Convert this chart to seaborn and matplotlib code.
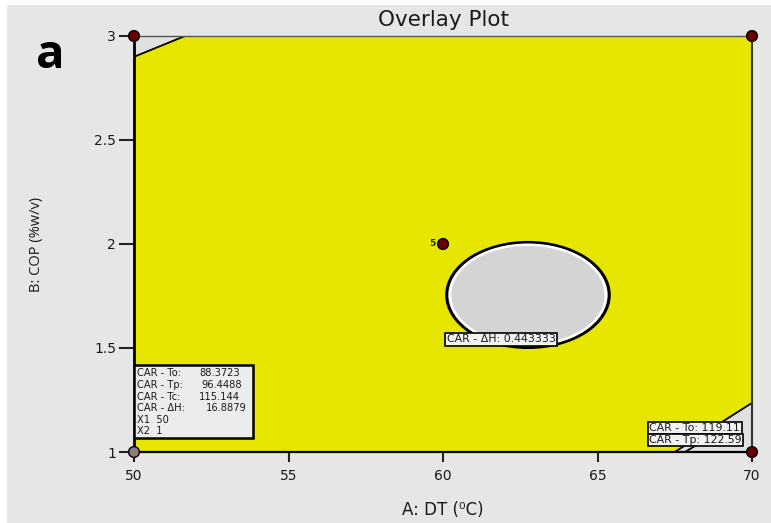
import numpy as np
import pandas as pd
import matplotlib
matplotlib.use("Agg")
import matplotlib.pyplot as plt
from matplotlib.patches import Ellipse, Polygon, Rectangle
import seaborn as sns

# Design points (A: DT, B: COP)
design_dt = [50, 70, 70, 50, 60]
design_cop = [3, 3, 1, 1, 2]
design_kind = ["run", "run", "run", "flag", "center"]

# Axis ticks
x_ticks = [50, 55, 60, 65, 70]
y_ticks = [1, 1.5, 2, 2.5, 3]
y_tick_labels = ["1", "1.5", "2", "2.5", "3"]

# Unsatisfied regions of the overlay
hole_center = (62.75, 1.755)      # CAR - dH window hole
hole_size = (5.26, 0.505)
corner_tl = [(50, 3), (51.65, 3), (50, 2.9)]
corner_br_to = [(67.5, 1), (70, 1.236), (70, 1)]
tp_line_dt = [67.83, 68.45]
tp_line_cop = [1.0, 1.055]

# Flag readout at X1=50, X2=1
flag_names = ["CAR - To:", "CAR - Tp:", "CAR - Tc:", "CAR - \u0394H:"]
flag_values = ["88.3723", "96.4488", "115.144", "16.8879"]
flag_factors = ["X1  50", "X2  1"]

# Contour labels
contour_labels = ["CAR - \u0394H: 0.443333", "CAR - To: 119.11", "CAR - Tp: 122.59"]

sns.set_theme(style="ticks")
plt.rcParams["font.family"] = ["DejaVu Sans"]

BG = "#e6e6e6"
YELLOW = "#e6e600"
INK = "#1a1a1a"

fig = plt.figure(figsize=(7.71, 5.23), dpi=100)
fig.patch.set_facecolor("white")
fig.patches.append(Rectangle((7 / 771, 0), 1, 1 - 5 / 523, transform=fig.transFigure,
                             facecolor=BG, edgecolor="none", zorder=-10))
ax = fig.add_axes([134 / 771, 1 - 452 / 523, (752 - 134) / 771, (452 - 36) / 523])
ax.set_facecolor(YELLOW)
ax.set_xlim(50, 70)
ax.set_ylim(1, 3)

# Unsatisfied corners
ax.add_patch(Polygon(corner_tl, closed=True, facecolor="#e0e0e0", edgecolor="none", zorder=1))
ax.plot([corner_tl[1][0], corner_tl[2][0]], [corner_tl[1][1], corner_tl[2][1]],
        color="black", lw=1.3, zorder=2)
ax.add_patch(Polygon(corner_br_to, closed=True, facecolor="#e0e0e0", edgecolor="none", zorder=1))
ax.plot([corner_br_to[0][0], corner_br_to[1][0]], [corner_br_to[0][1], corner_br_to[1][1]],
        color="black", lw=1.3, zorder=2)
ax.plot(tp_line_dt, tp_line_cop, color="black", lw=1.3, zorder=2)

# Central hole
ax.add_patch(Ellipse(hole_center, hole_size[0], hole_size[1], facecolor="#d4d4d4",
                     edgecolor="black", lw=2.2, zorder=2))
ax.add_patch(Ellipse(hole_center, hole_size[0] - 0.22, hole_size[1] - 0.022, facecolor="none",
                     edgecolor="white", lw=1.8, zorder=2))

# Design points
df = pd.DataFrame({"DT": design_dt, "COP": design_cop, "kind": design_kind})
sns.scatterplot(data=df, x="DT", y="COP", hue="kind",
                palette={"run": "#6a0000", "flag": "#8e7c7c", "center": "#6a0000"},
                s=60, edgecolor="black", linewidth=1.0, legend=False, ax=ax,
                zorder=6, clip_on=False)
ax.text(59.75, 2.0, "5", fontsize=6.5, fontweight="bold", ha="right", va="center", zorder=6)

# Flag box
ax.add_patch(Rectangle((50, 1.067), 3.85, 0.351, facecolor="#ececec", edgecolor="black",
                       lw=1.8, zorder=4))
row_y = [1.380, 1.322, 1.264, 1.212, 1.154, 1.101]
val_x = [52.10, 52.17, 52.10, 52.33]
for i, (name, val) in enumerate(zip(flag_names, flag_values)):
    ax.text(50.1, row_y[i], name, fontsize=7.1, ha="left", va="center", color=INK, zorder=5)
    ax.text(val_x[i], row_y[i], val, fontsize=7.1, ha="left", va="center", color=INK, zorder=5)
for j, txt in enumerate(flag_factors):
    ax.text(50.1, row_y[4 + j], txt, fontsize=7.1, ha="left", va="center", color=INK, zorder=5)

# Contour labels
box = dict(boxstyle="square,pad=0.12", facecolor="#f2f2f2", edgecolor="black", lw=1.2)
ax.text(60.12, 1.541, contour_labels[0], fontsize=7.9, ha="left", va="center", bbox=box,
        color=INK, zorder=5)
ax.text(66.68, 1.116, contour_labels[1], fontsize=7.9, ha="left", va="center", bbox=box,
        color=INK, zorder=5)
ax.text(66.68, 1.058, contour_labels[2], fontsize=7.9, ha="left", va="center", bbox=box,
        color=INK, zorder=5)

# Axes styling
ax.set_xticks(x_ticks)
ax.set_yticks(y_ticks)
ax.set_yticklabels(y_tick_labels)
ax.tick_params(axis="x", length=7.5, width=1.5, color="#222222", pad=5, labelsize=10,
               labelcolor=INK)
ax.tick_params(axis="y", length=11, width=1.5, color="#222222", pad=2, labelsize=10,
               labelcolor=INK)
for side, lw, col in [("left", 2.0, "black"), ("bottom", 1.6, "black"),
                      ("right", 1.5, "#333333"), ("top", 1.0, "#555555")]:
    ax.spines[side].set_visible(True)
    ax.spines[side].set_linewidth(lw)
    ax.spines[side].set_color(col)

ax.set_xlabel("A: DT (\u2070C)", fontsize=12, labelpad=13, color=INK)
ax.set_ylabel("B: COP (%w/v)", fontsize=10.5, labelpad=36, color=INK,
              family=["Open Sans", "DejaVu Sans"])
ax.set_title("Overlay Plot", fontsize=15.5, pad=7, color=INK)
fig.text(50 / 771, 1 - 55 / 523, "a", fontsize=34, fontweight="bold", ha="center",
         va="center", color="black", family=["Open Sans", "DejaVu Sans"])

fig.savefig("out.png", dpi=100, facecolor=fig.get_facecolor())
